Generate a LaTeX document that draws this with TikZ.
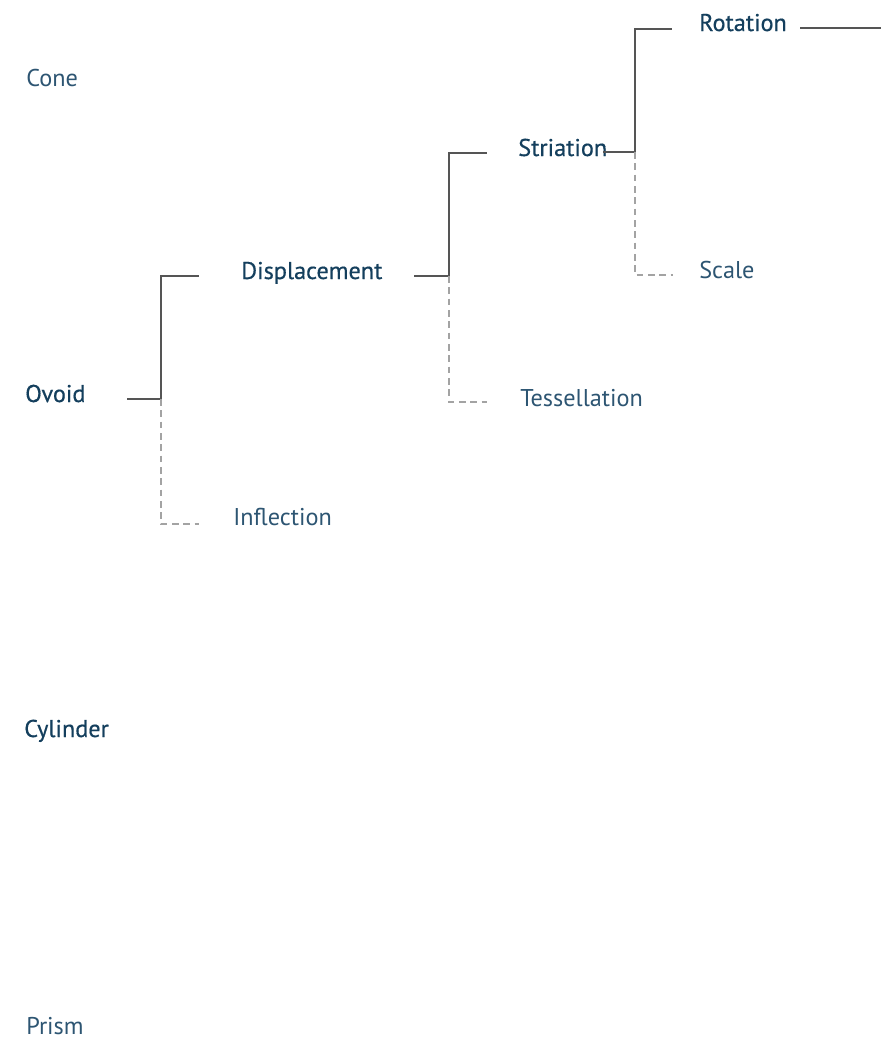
\documentclass[tikz,border=0pt]{standalone}
\usepackage{fontspec}
\setmainfont{PT Sans}
\newfontfamily\keyfamily[FakeBold=0.5]{PT Sans}
\usetikzlibrary{positioning}

\definecolor{termblue}{HTML}{2D5572}
\definecolor{keyblue}{HTML}{143F5D}
\definecolor{branchgray}{HTML}{555555}
\definecolor{optiongray}{HTML}{A3A3A3}

\tikzset{
    term/.style={anchor=base west, inner sep=0pt, text=termblue,
        font=\fontsize{18.2}{21}\selectfont},
    keyterm/.style={term, text=keyblue,
        font=\keyfamily\fontsize{18.2}{21}\selectfont},
    branch/.style={draw=branchgray, line width=1.1pt},
    option/.style={draw=optiongray, line width=1pt, dash pattern=on 5pt off 3.5pt}
}

\begin{document}
\begin{tikzpicture}[x=0.75pt, y=-0.75pt]
    \useasboundingbox (0, 0) rectangle (881, 1040);

    % first column
    \node[term] (cone) at (26, 86) {Cone};
    \node[keyterm] (ovoid) at (25, 402) {Ovoid};
    \node[keyterm] (cylinder) at (24, 737) {Cylinder};
    \node[term] (prism) at (26, 1034) {Prism};

    % second column
    \node[keyterm] (displacement) at (241, 279) {Displacement};
    \node[term] (inflection) at (233, 525) {Inflection};

    % third column
    \node[keyterm] (striation) at (518, 156) {Striation};
    \node[term] (tessellation) at (520, 406) {Tessellation};

    % fourth column
    \node[keyterm] (rotation) at (699, 31) {Rotation};
    \node[term] (scale) at (699, 278) {Scale};

    % fork points and free ends
    \coordinate (ovoid out) at (127, 399);
    \coordinate (ovoid fork) at (161, 399);
    \coordinate (displacement in) at (199, 276);
    \coordinate (inflection in) at (199, 524);

    \coordinate (displacement out) at (414, 276);
    \coordinate (displacement fork) at (449, 276);
    \coordinate (striation in) at (487, 153);
    \coordinate (tessellation in) at (487, 402);

    \coordinate (striation out) at (603, 152);
    \coordinate (striation fork) at (635, 152);
    \coordinate (rotation in) at (672, 29);
    \coordinate (scale in) at (673, 275);

    \coordinate (rotation out) at (800, 28);
    \coordinate (rotation end) at (881, 28);

    % connectors
    \draw[branch] (ovoid out) -- (ovoid fork) |- (displacement in);
    \draw[option] (ovoid fork) |- (inflection in);

    \draw[branch] (displacement out) -- (displacement fork) |- (striation in);
    \draw[option] (displacement fork) |- (tessellation in);

    \draw[branch] (striation out) -- (striation fork) |- (rotation in);
    \draw[option] (striation fork) |- (scale in);

    \draw[branch] (rotation out) -- (rotation end);
\end{tikzpicture}
\end{document}
